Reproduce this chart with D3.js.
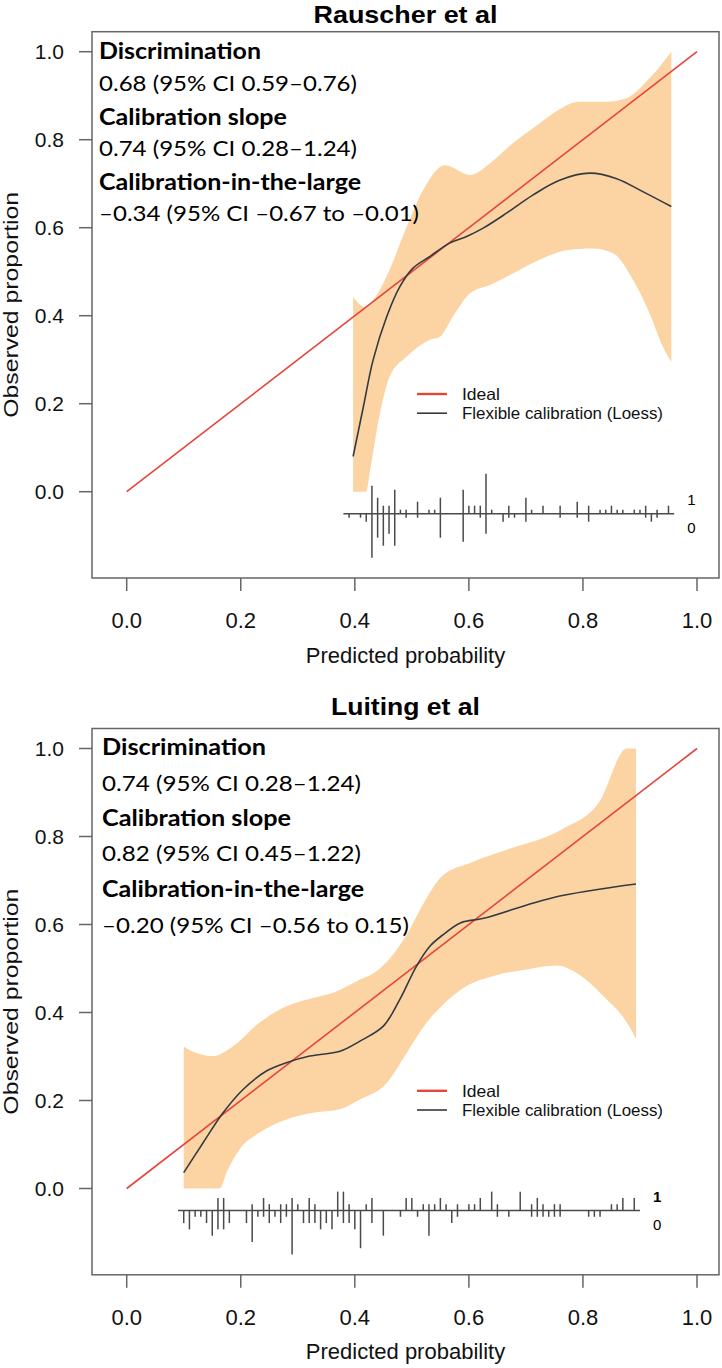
<!DOCTYPE html>
<html><head><meta charset="utf-8">
<script src="https://cdnjs.cloudflare.com/ajax/libs/d3/7.8.5/d3.min.js"></script>
<style>body{margin:0;background:#fff;} svg{display:block;}</style>
</head><body>
<svg id="chart" width="722" height="1368"></svg>
<script>
// ---------- DATA ----------
const tickValues = [0, 0.2, 0.4, 0.6, 0.8, 1.0];
const tickLabels = ["0.0", "0.2", "0.4", "0.6", "0.8", "1.0"];
const idealX = [0, 1];
const idealY = [0, 1];
const legendLabels = ["Ideal", "Flexible calibration (Loess)"];
const rugLabels = ["1", "0"];

// Panel 1: Rauscher et al
const rauscherTitle = "Rauscher et al";
const rauscherStats = ["Discrimination", "0.68 (95% CI 0.59–0.76)", "Calibration slope", "0.74 (95% CI 0.28–1.24)", "Calibration-in-the-large", "–0.34 (95% CI –0.67 to –0.01)"];
const rauscherLoessX = [0.397,0.415,0.432,0.456,0.479,0.502,0.531,0.566,0.596,0.625,0.666,0.712,0.759,0.812,0.858,0.905,0.955];
const rauscherLoessY = [0.080,0.193,0.299,0.398,0.466,0.508,0.534,0.565,0.580,0.599,0.633,0.674,0.708,0.724,0.712,0.682,0.648];
const rauscherUpperX = [0.397,0.418,0.435,0.456,0.491,0.520,0.558,0.602,0.637,0.677,0.724,0.753,0.794,0.841,0.876,0.917,0.955];
const rauscherUpperY = [0.443,0.420,0.440,0.490,0.602,0.686,0.742,0.720,0.746,0.792,0.837,0.864,0.886,0.886,0.894,0.940,1.000];
const rauscherLowerX = [0.397,0.420,0.426,0.444,0.461,0.491,0.531,0.549,0.572,0.602,0.637,0.677,0.724,0.771,0.818,0.853,0.888,0.917,0.940,0.955];
const rauscherLowerY = [0.000,0.000,0.042,0.178,0.261,0.307,0.345,0.352,0.398,0.451,0.470,0.496,0.527,0.549,0.553,0.542,0.481,0.405,0.330,0.295];
const rauscherRugX = [0.39,0.41,0.42,0.43,0.44,0.45,0.46,0.47,0.48,0.49,0.51,0.53,0.54,0.55,0.59,0.60,0.61,0.62,0.63,0.64,0.66,0.67,0.68,0.70,0.71,0.73,0.76,0.79,0.81,0.83,0.84,0.85,0.86,0.87,0.89,0.90,0.91,0.92,0.93,0.95];
const rauscherRugOnes = [0,0,0,7,4,2,2,6,1,1,3,1,1,4,6,2,2,2,10,1,0,2,0,4,1,2,2,3,2,1,1,2,1,1,1,1,2,0,1,2];
const rauscherRugZeros = [1,1,2,11,6,8,5,8,0,1,1,0,0,6,7,0,0,1,5,0,2,1,1,2,0,0,1,1,2,0,0,0,0,0,0,0,1,2,1,0];

// Panel 2: Luiting et al
const luitingTitle = "Luiting et al";
const luitingStats = ["Discrimination", "0.74 (95% CI 0.28–1.24)", "Calibration slope", "0.82 (95% CI 0.45–1.22)", "Calibration-in-the-large", "–0.20 (95% CI –0.56 to 0.15)"];
const luitingLoessX = [0.100,0.134,0.169,0.204,0.245,0.280,0.321,0.374,0.409,0.450,0.479,0.508,0.532,0.553,0.586,0.626,0.747,0.893];
const luitingLoessY = [0.036,0.104,0.172,0.225,0.267,0.286,0.301,0.312,0.335,0.369,0.430,0.505,0.551,0.575,0.604,0.614,0.661,0.692];
const luitingUpperX = [0.100,0.122,0.151,0.186,0.233,0.280,0.327,0.362,0.409,0.438,0.467,0.490,0.521,0.553,0.602,0.666,0.763,0.828,0.877,0.893];
const luitingUpperY = [0.323,0.308,0.301,0.323,0.377,0.414,0.433,0.445,0.475,0.494,0.532,0.575,0.649,0.710,0.740,0.770,0.816,0.877,1.000,1.000];
const luitingLowerX = [0.100,0.163,0.175,0.198,0.233,0.280,0.327,0.374,0.409,0.456,0.491,0.526,0.555,0.596,0.643,0.701,0.754,0.789,0.836,0.877,0.893];
const luitingLowerY = [0.000,0.000,0.036,0.089,0.127,0.157,0.172,0.180,0.202,0.240,0.308,0.377,0.418,0.460,0.483,0.498,0.507,0.490,0.437,0.377,0.340];
const luitingRugX = [0.10,0.11,0.12,0.13,0.14,0.15,0.16,0.17,0.18,0.21,0.22,0.23,0.24,0.25,0.26,0.27,0.28,0.29,0.30,0.31,0.32,0.33,0.34,0.35,0.36,0.37,0.38,0.39,0.40,0.41,0.42,0.43,0.45,0.48,0.49,0.50,0.51,0.52,0.53,0.54,0.55,0.56,0.57,0.58,0.60,0.61,0.62,0.64,0.65,0.67,0.69,0.71,0.72,0.73,0.74,0.75,0.76,0.81,0.82,0.83,0.85,0.86,0.87,0.89];
const luitingRugOnes  = [0,0,0,0,0,0,2,2,0,0,1,0,2,1,0,1,1,2,1,0,2,1,0,0,0,3,3,1,0,0,1,2,0,0,2,2,0,1,1,1,2,1,0,1,1,1,2,3,1,0,3,1,2,1,0,1,1,0,0,0,1,1,2,2];
const luitingRugZeros = [2,3,1,1,2,4,3,3,2,2,5,1,1,2,1,2,1,7,0,2,2,2,3,2,3,1,2,2,3,6,0,2,4,1,0,0,1,0,4,0,0,0,2,1,0,0,0,0,1,1,0,1,1,1,1,1,1,1,1,1,0,0,0,0];

// ---------- LAYOUT / STYLE ----------
const COLORS = {band: "#fcd4a4", ideal: "#e5453b", loess: "#333a40", box: "#666", rug: "#4a4a4a", text: "#000"};
const panels = [
  {title: rauscherTitle, stats: rauscherStats, lx: rauscherLoessX, ly: rauscherLoessY,
   ux: rauscherUpperX, uy: rauscherUpperY, wx: rauscherLowerX, wy: rauscherLowerY,
   rx: rauscherRugX, r1: rauscherRugOnes, r0: rauscherRugZeros,
   boxTop: 31.7, titleBase: 22.5, titleW: 184, statX: 99,
   statBase: [26.8, 59.3, 92.8, 124.3, 157.8, 189.3], statW: [162, 258, 188, 258, 262, 320], bold1: false},
  {title: luitingTitle, stats: luitingStats, lx: luitingLoessX, ly: luitingLoessY,
   ux: luitingUpperX, uy: luitingUpperY, wx: luitingLowerX, wy: luitingLowerY,
   rx: luitingRugX, r1: luitingRugOnes, r0: luitingRugZeros,
   boxTop: 728.5, titleBase: 715, titleW: 149, statX: 102,
   statBase: [26.5, 62.5, 97.5, 132.5, 168.5, 204.5], statW: [164, 259, 189, 259, 262, 307], bold1: true}
];

const svg = d3.select("#chart");
svg.append("rect").attr("width", 722).attr("height", 1368).attr("fill", "#fff");
const SANS = "'Liberation Sans', Arial, sans-serif";
const STAT = "Lato, 'Open Sans', sans-serif";

panels.forEach(p => {
  const g = svg.append("g");
  const boxL = 92, boxR = 719, boxT = p.boxTop, boxB = p.boxTop + 546.3;
  const x = d3.scaleLinear().domain([0, 1]).range([126.7, 697]);
  const y = d3.scaleLinear().domain([0, 1]).range([boxT + 460, boxT + 20]);

  // title
  g.append("text").attr("x", (boxL + boxR) / 2).attr("y", p.titleBase)
    .attr("text-anchor", "middle").attr("font-family", SANS).attr("font-weight", "bold")
    .attr("font-size", 24).attr("textLength", p.titleW).attr("lengthAdjust", "spacingAndGlyphs")
    .text(p.title);

  // box
  g.append("rect").attr("x", boxL).attr("y", boxT).attr("width", boxR - boxL).attr("height", boxB - boxT)
    .attr("fill", "none").attr("stroke", COLORS.box).attr("stroke-width", 1.5);

  // axes ticks
  const xa = g.append("g");
  tickValues.forEach((v, i) => {
    xa.append("line").attr("x1", x(v)).attr("x2", x(v)).attr("y1", boxB).attr("y2", boxB + 13)
      .attr("stroke", COLORS.box).attr("stroke-width", 1.5);
    xa.append("text").attr("x", x(v)).attr("y", boxB + 50).attr("text-anchor", "middle")
      .attr("font-family", SANS).attr("font-size", 22).attr("fill", "#111").text(tickLabels[i]);
    xa.append("line").attr("x1", boxL - 13).attr("x2", boxL).attr("y1", y(v)).attr("y2", y(v))
      .attr("stroke", COLORS.box).attr("stroke-width", 1.5);
    xa.append("text").attr("x", 64).attr("y", y(v)).attr("dy", "0.36em").attr("text-anchor", "end")
      .attr("font-family", SANS).attr("font-size", 21).attr("fill", "#111").text(tickLabels[i]);
  });
  g.append("text").attr("x", (boxL + boxR) / 2).attr("y", boxB + 84.5).attr("text-anchor", "middle")
    .attr("font-family", SANS).attr("font-size", 22).attr("fill", "#111").text("Predicted probability");
  g.append("text").attr("transform", `translate(18,${(boxT + boxB) / 2}) rotate(-90)`)
    .attr("text-anchor", "middle").attr("font-family", SANS).attr("font-size", 21)
    .attr("textLength", 226).attr("lengthAdjust", "spacingAndGlyphs").attr("fill", "#111")
    .text("Observed proportion");

  // band
  const lg = d3.line().x(d => x(d[0])).y(d => y(d[1])).curve(d3.curveMonotoneX);
  const upper = lg(d3.zip(p.ux, p.uy));
  const lower = lg(d3.zip(p.wx, p.wy).reverse());
  g.append("path").attr("d", upper + lower.replace(/^M/, "L") + "Z")
    .attr("fill", COLORS.band).attr("stroke", "none");

  // ideal
  g.append("path").attr("d", d3.line().x(d => x(d[0])).y(d => y(d[1]))(d3.zip(idealX, idealY)))
    .attr("stroke", COLORS.ideal).attr("stroke-width", 1.6).attr("fill", "none");
  // loess
  g.append("path").attr("d", d3.line().x(d => x(d[0])).y(d => y(d[1])).curve(d3.curveCatmullRom.alpha(0.5))(d3.zip(p.lx, p.ly)))
    .attr("stroke", COLORS.loess).attr("stroke-width", 1.6).attr("fill", "none");

  // legend
  const legY = [boxT + 362.3, boxT + 381.5];
  const legC = [COLORS.ideal, COLORS.loess];
  legendLabels.forEach((t, i) => {
    g.append("line").attr("x1", 417).attr("x2", 447).attr("y1", legY[i]).attr("y2", legY[i])
      .attr("stroke", legC[i]).attr("stroke-width", i === 0 ? 2.4 : 1.6);
    g.append("text").attr("x", 462).attr("y", legY[i] + 6).attr("font-family", SANS)
      .attr("font-size", 16.5).attr("textLength", i === 0 ? 38 : 201).attr("lengthAdjust", "spacingAndGlyphs")
      .attr("fill", "#111").text(t);
  });

  // rug histogram
  const lineBins = -0.05;
  const maxC = d3.max(p.r1.concat(p.r0));
  const hh = c => 0.1 * c / maxC;
  const rg = g.append("g").attr("stroke", COLORS.rug).attr("stroke-width", 1.5);
  rg.append("line").attr("x1", x(d3.min(p.rx) - 0.01)).attr("x2", x(d3.max(p.rx) + 0.01))
    .attr("y1", y(lineBins)).attr("y2", y(lineBins)).attr("stroke-width", 1.6);
  p.rx.forEach((v, i) => {
    if (p.r1[i] > 0) rg.append("line").attr("x1", x(v)).attr("x2", x(v)).attr("y1", y(lineBins)).attr("y2", y(lineBins + hh(p.r1[i])));
    if (p.r0[i] > 0) rg.append("line").attr("x1", x(v)).attr("x2", x(v)).attr("y1", y(lineBins)).attr("y2", y(lineBins - hh(p.r0[i])));
  });
  const labX = x(d3.max(p.rx) + 0.04);
  g.append("text").attr("x", labX).attr("y", y(lineBins) - 8.5).attr("text-anchor", "middle")
    .attr("font-family", SANS).attr("font-size", 15).attr("font-weight", p.bold1 ? "bold" : "normal").text(rugLabels[0]);
  g.append("text").attr("x", labX).attr("y", y(lineBins) + 19).attr("text-anchor", "middle")
    .attr("font-family", SANS).attr("font-size", 15).text(rugLabels[1]);

  // stats text
  p.stats.forEach((t, i) => {
    g.append("text").attr("x", p.statX).attr("y", boxT + p.statBase[i])
      .attr("font-family", STAT).attr("font-size", 22).attr("font-weight", i % 2 === 0 ? "bold" : "normal")
      .attr("textLength", p.statW[i]).attr("lengthAdjust", "spacingAndGlyphs").attr("fill", COLORS.text)
      .text(t);
  });
});
</script>
</body></html>
